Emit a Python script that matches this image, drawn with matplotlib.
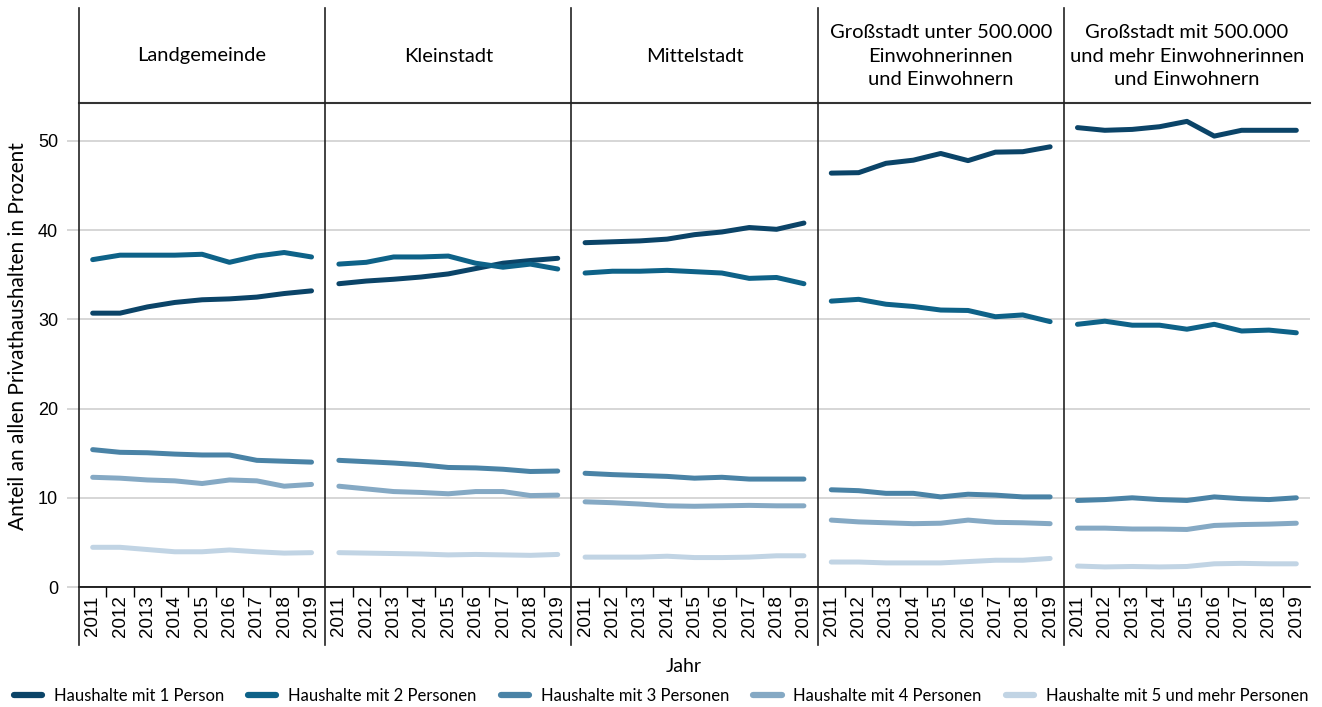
import matplotlib
matplotlib.use("Agg")
import matplotlib.pyplot as plt
from matplotlib.lines import Line2D

years = ["2011", "2012", "2013", "2014", "2015", "2016", "2017", "2018", "2019"]

panels = [
    "Landgemeinde",
    "Kleinstadt",
    "Mittelstadt",
    "Großstadt unter 500.000\nEinwohnerinnen\nund Einwohnern",
    "Großstadt mit 500.000\nund mehr Einwohnerinnen\nund Einwohnern",
]

series_names = [
    "Haushalte mit 1 Person",
    "Haushalte mit 2 Personen",
    "Haushalte mit 3 Personen",
    "Haushalte mit 4 Personen",
    "Haushalte mit 5 und mehr Personen",
]

# values per panel, per household size (percent)
landgemeinde = [
    [30.7, 30.7, 31.4, 31.9, 32.2, 32.3, 32.5, 32.9, 33.2],
    [36.7, 37.2, 37.2, 37.2, 37.3, 36.4, 37.1, 37.5, 37.0],
    [15.4, 15.1, 15.05, 14.9, 14.8, 14.8, 14.2, 14.1, 14.0],
    [12.3, 12.2, 12.0, 11.9, 11.6, 12.0, 11.9, 11.3, 11.5],
    [4.45, 4.45, 4.2, 3.95, 3.95, 4.15, 3.95, 3.8, 3.85],
]
kleinstadt = [
    [34.0, 34.3, 34.5, 34.75, 35.1, 35.7, 36.3, 36.6, 36.85],
    [36.2, 36.4, 37.0, 37.0, 37.1, 36.3, 35.85, 36.2, 35.65],
    [14.2, 14.05, 13.9, 13.7, 13.4, 13.35, 13.2, 12.95, 13.0],
    [11.3, 11.0, 10.7, 10.6, 10.45, 10.7, 10.7, 10.25, 10.3],
    [3.85, 3.8, 3.75, 3.7, 3.6, 3.65, 3.6, 3.55, 3.65],
]
mittelstadt = [
    [38.6, 38.7, 38.8, 39.0, 39.5, 39.8, 40.3, 40.1, 40.8],
    [35.2, 35.4, 35.4, 35.5, 35.35, 35.2, 34.6, 34.7, 34.0],
    [12.75, 12.6, 12.5, 12.4, 12.2, 12.3, 12.1, 12.1, 12.1],
    [9.55, 9.45, 9.3, 9.1, 9.05, 9.1, 9.15, 9.1, 9.1],
    [3.35, 3.35, 3.35, 3.45, 3.3, 3.3, 3.35, 3.5, 3.5],
]
grossstadt_unter = [
    [46.4, 46.45, 47.5, 47.85, 48.6, 47.8, 48.75, 48.8, 49.35],
    [32.05, 32.25, 31.7, 31.45, 31.05, 31.0, 30.3, 30.5, 29.75],
    [10.9, 10.8, 10.5, 10.5, 10.1, 10.4, 10.3, 10.1, 10.1],
    [7.5, 7.3, 7.2, 7.1, 7.15, 7.5, 7.25, 7.2, 7.1],
    [2.8, 2.8, 2.7, 2.7, 2.7, 2.85, 3.0, 3.0, 3.2],
]
grossstadt_mit = [
    [51.5, 51.2, 51.3, 51.6, 52.2, 50.55, 51.2, 51.2, 51.2],
    [29.45, 29.8, 29.35, 29.35, 28.9, 29.45, 28.7, 28.8, 28.5],
    [9.7, 9.8, 10.0, 9.8, 9.7, 10.1, 9.9, 9.8, 10.0],
    [6.6, 6.6, 6.5, 6.5, 6.45, 6.9, 7.0, 7.05, 7.15],
    [2.35, 2.25, 2.3, 2.25, 2.3, 2.6, 2.65, 2.6, 2.6],
]
panel_data = [landgemeinde, kleinstadt, mittelstadt, grossstadt_unter, grossstadt_mit]

colors = ["#0b4468", "#0e6288", "#4a83a6", "#85a9c4", "#c1d4e4"]

plt.rcParams["font.family"] = ["Lato", "DejaVu Sans"]

W, H = 1322, 707
fig = plt.figure(figsize=(W / 100, H / 100), dpi=100)

left_px, right_px, top_px, bottom_px = 79, 1310, 103, 587
pw = (right_px - left_px) / 5
x = list(range(len(years)))

for i, (title, data) in enumerate(zip(panels, panel_data)):
    l = (left_px + i * pw) / W
    ax = fig.add_axes([l, 1 - bottom_px / H, pw / W, (bottom_px - top_px) / H])
    for vals, c in zip(data, colors):
        ax.plot(x, vals, color=c, lw=3.6, solid_capstyle="round", solid_joinstyle="round", zorder=3)
    ax.set_xlim(-0.5, 8.5)
    ax.set_ylim(0, 54.26)
    ax.set_yticks([0, 10, 20, 30, 40, 50])
    ax.grid(axis="y", color="#cfcfcf", lw=1.2, zorder=0)
    ax.set_xticks(x)
    ax.set_xticklabels(years, rotation=90, family=["Liberation Sans"], fontsize=13.5)
    ax.set_xticks([k + 0.5 for k in x[:-1]], minor=True)
    ax.tick_params(axis="x", which="major", length=0, pad=6)
    ax.tick_params(axis="x", which="minor", length=7, width=1, color="black")
    for s in ["left", "right"]:
        ax.spines[s].set_visible(False)
    ax.spines["top"].set_color("#333333")
    ax.spines["top"].set_linewidth(1.5)
    ax.spines["bottom"].set_color("black")
    ax.spines["bottom"].set_linewidth(1.2)
    if i == 0:
        ax.tick_params(axis="y", length=9, color="#cfcfcf", width=1.2, pad=6)
        ax.set_yticklabels(["0", "10", "20", "30", "40", "50"], family=["Liberation Sans"], fontsize=13)
    else:
        ax.tick_params(axis="y", length=0, labelleft=False)
    # header text
    fig.text((left_px + (i + 0.5) * pw) / W, 1 - 56 / H, title, ha="center", va="center",
             fontsize=14.5, linespacing=1.45)
    # vertical separator
    fig.add_artist(Line2D([l, l], [1 - 8 / H, 1 - 645 / H], color="#222222", lw=1.2))

fig.text(18 / W, 1 - 336 / H, "Anteil an allen Privathaushalten in Prozent", rotation=90,
         ha="center", va="center", fontsize=15)
fig.text(684 / W, 1 - 666 / H, "Jahr", ha="center", va="center", fontsize=14)

handles = [Line2D([0], [0], color=c, lw=4.5, solid_capstyle="round") for c in colors]
fig.legend(handles, series_names, loc="center", bbox_to_anchor=(661 / W, 1 - 696 / H), ncol=5,
           frameon=False, fontsize=12, handlelength=1.7, handletextpad=0.7, columnspacing=1.45,
           borderaxespad=0, borderpad=0)

fig.savefig("out.png", dpi=100)
